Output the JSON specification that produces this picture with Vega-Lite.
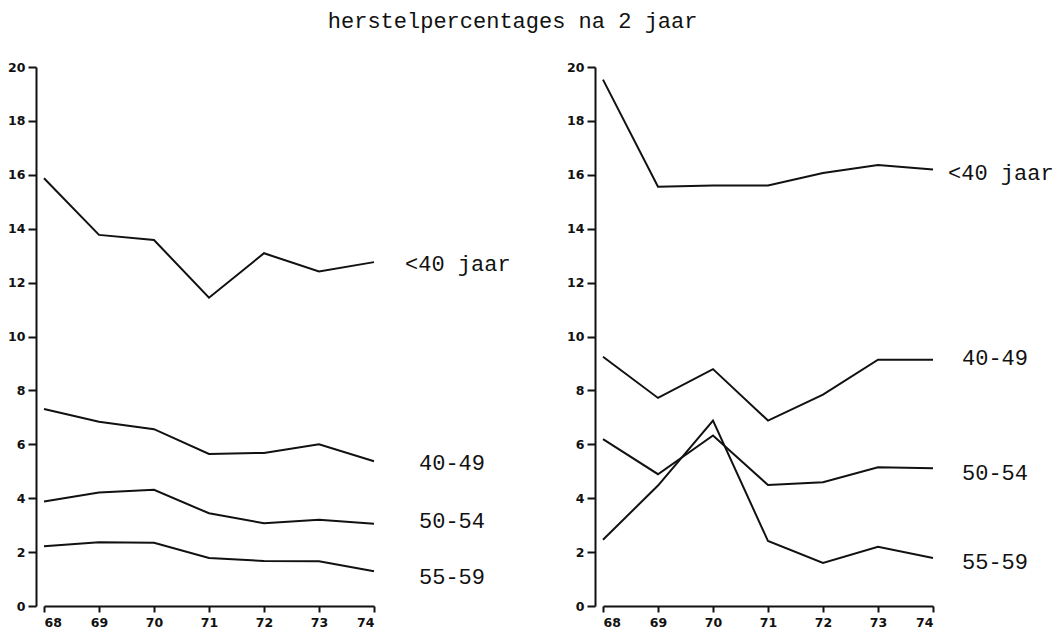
{
  "$schema": "https://vega.github.io/schema/vega-lite/v6.json",
  "background": "white",
  "padding": {"left": 7, "top": 10, "right": 4, "bottom": 4},
  "title": {
    "text": "herstelpercentages na 2 jaar",
    "font": "Liberation Mono",
    "fontSize": 22,
    "fontWeight": "normal",
    "color": "#111",
    "anchor": "middle",
    "offset": 28,
    "dx": -18
  },
  "datasets": {
    "lines": [
      {"panel": "A", "groep": "<40 jaar", "jaar": 68, "pct": 15.87},
      {"panel": "A", "groep": "<40 jaar", "jaar": 69, "pct": 13.77},
      {"panel": "A", "groep": "<40 jaar", "jaar": 70, "pct": 13.58},
      {"panel": "A", "groep": "<40 jaar", "jaar": 71, "pct": 11.44},
      {"panel": "A", "groep": "<40 jaar", "jaar": 72, "pct": 13.09},
      {"panel": "A", "groep": "<40 jaar", "jaar": 73, "pct": 12.41},
      {"panel": "A", "groep": "<40 jaar", "jaar": 74, "pct": 12.76},
      {"panel": "A", "groep": "40-49", "jaar": 68, "pct": 7.31},
      {"panel": "A", "groep": "40-49", "jaar": 69, "pct": 6.84},
      {"panel": "A", "groep": "40-49", "jaar": 70, "pct": 6.56},
      {"panel": "A", "groep": "40-49", "jaar": 71, "pct": 5.64},
      {"panel": "A", "groep": "40-49", "jaar": 72, "pct": 5.68},
      {"panel": "A", "groep": "40-49", "jaar": 73, "pct": 6.0},
      {"panel": "A", "groep": "40-49", "jaar": 74, "pct": 5.37},
      {"panel": "A", "groep": "50-54", "jaar": 68, "pct": 3.88},
      {"panel": "A", "groep": "50-54", "jaar": 69, "pct": 4.21},
      {"panel": "A", "groep": "50-54", "jaar": 70, "pct": 4.31},
      {"panel": "A", "groep": "50-54", "jaar": 71, "pct": 3.44},
      {"panel": "A", "groep": "50-54", "jaar": 72, "pct": 3.07},
      {"panel": "A", "groep": "50-54", "jaar": 73, "pct": 3.2},
      {"panel": "A", "groep": "50-54", "jaar": 74, "pct": 3.05},
      {"panel": "A", "groep": "55-59", "jaar": 68, "pct": 2.22},
      {"panel": "A", "groep": "55-59", "jaar": 69, "pct": 2.37},
      {"panel": "A", "groep": "55-59", "jaar": 70, "pct": 2.35},
      {"panel": "A", "groep": "55-59", "jaar": 71, "pct": 1.78},
      {"panel": "A", "groep": "55-59", "jaar": 72, "pct": 1.67},
      {"panel": "A", "groep": "55-59", "jaar": 73, "pct": 1.66},
      {"panel": "A", "groep": "55-59", "jaar": 74, "pct": 1.29},
      {"panel": "B", "groep": "<40 jaar", "jaar": 68, "pct": 19.53},
      {"panel": "B", "groep": "<40 jaar", "jaar": 69, "pct": 15.56},
      {"panel": "B", "groep": "<40 jaar", "jaar": 70, "pct": 15.6},
      {"panel": "B", "groep": "<40 jaar", "jaar": 71, "pct": 15.6},
      {"panel": "B", "groep": "<40 jaar", "jaar": 72, "pct": 16.07},
      {"panel": "B", "groep": "<40 jaar", "jaar": 73, "pct": 16.36},
      {"panel": "B", "groep": "<40 jaar", "jaar": 74, "pct": 16.2},
      {"panel": "B", "groep": "40-49", "jaar": 68, "pct": 9.25},
      {"panel": "B", "groep": "40-49", "jaar": 69, "pct": 7.72},
      {"panel": "B", "groep": "40-49", "jaar": 70, "pct": 8.79},
      {"panel": "B", "groep": "40-49", "jaar": 71, "pct": 6.88},
      {"panel": "B", "groep": "40-49", "jaar": 72, "pct": 7.84},
      {"panel": "B", "groep": "40-49", "jaar": 73, "pct": 9.14},
      {"panel": "B", "groep": "40-49", "jaar": 74, "pct": 9.14},
      {"panel": "B", "groep": "50-54", "jaar": 68, "pct": 6.19},
      {"panel": "B", "groep": "50-54", "jaar": 69, "pct": 4.89},
      {"panel": "B", "groep": "50-54", "jaar": 70, "pct": 6.33},
      {"panel": "B", "groep": "50-54", "jaar": 71, "pct": 4.49},
      {"panel": "B", "groep": "50-54", "jaar": 72, "pct": 4.59},
      {"panel": "B", "groep": "50-54", "jaar": 73, "pct": 5.15},
      {"panel": "B", "groep": "50-54", "jaar": 74, "pct": 5.11},
      {"panel": "B", "groep": "55-59", "jaar": 68, "pct": 2.46},
      {"panel": "B", "groep": "55-59", "jaar": 69, "pct": 4.47},
      {"panel": "B", "groep": "55-59", "jaar": 70, "pct": 6.88},
      {"panel": "B", "groep": "55-59", "jaar": 71, "pct": 2.41},
      {"panel": "B", "groep": "55-59", "jaar": 72, "pct": 1.6},
      {"panel": "B", "groep": "55-59", "jaar": 73, "pct": 2.2},
      {"panel": "B", "groep": "55-59", "jaar": 74, "pct": 1.78}
    ],
    "labels": [
      {"panel": "A", "groep": "<40 jaar", "jaar": 74, "pct": 12.69},
      {"panel": "A", "groep": "40-49", "jaar": 74, "pct": 5.32},
      {"panel": "A", "groep": "50-54", "jaar": 74, "pct": 3.17},
      {"panel": "A", "groep": "55-59", "jaar": 74, "pct": 1.06},
      {"panel": "B", "groep": "<40 jaar", "jaar": 74, "pct": 16.06},
      {"panel": "B", "groep": "40-49", "jaar": 74, "pct": 9.21},
      {"panel": "B", "groep": "50-54", "jaar": 74, "pct": 4.92},
      {"panel": "B", "groep": "55-59", "jaar": 74, "pct": 1.62}
    ]
  },
  "spacing": 229,
  "bounds": "flush",
  "hconcat": [
    {
      "width": 330,
      "height": 539,
      "encoding": {
        "x": {"field": "jaar", "type": "quantitative", "scale": {"domain": [68, 74], "nice": false, "zero": false}, "axis": {"values": [68, 69, 70, 71, 72, 73, 74], "title": null}},
        "y": {"field": "pct", "type": "quantitative", "scale": {"domain": [0, 20], "nice": false}, "axis": {"values": [0, 2, 4, 6, 8, 10, 12, 14, 16, 18, 20], "title": null, "offset": 8}}
      },
      "layer": [
        {
          "data": {"name": "lines"},
          "transform": [{"filter": "datum.panel === 'A'"}],
          "mark": {"type": "line", "color": "#111", "strokeWidth": 2},
          "encoding": {"detail": {"field": "groep"}}
        },
        {
          "data": {"name": "labels"},
          "transform": [{"filter": "datum.panel === 'A' && datum.groep === '<40 jaar'"}],
          "mark": {"type": "text", "align": "left", "baseline": "middle", "dx": 31, "font": "Liberation Mono", "fontSize": 22, "color": "#111"},
          "encoding": {"text": {"field": "groep"}}
        },
        {
          "data": {"name": "labels"},
          "transform": [{"filter": "datum.panel === 'A' && datum.groep !== '<40 jaar'"}],
          "mark": {"type": "text", "align": "left", "baseline": "middle", "dx": 45, "font": "Liberation Mono", "fontSize": 22, "color": "#111"},
          "encoding": {"text": {"field": "groep"}}
        }
      ]
    },
    {
      "width": 330,
      "height": 539,
      "encoding": {
        "x": {"field": "jaar", "type": "quantitative", "scale": {"domain": [68, 74], "nice": false, "zero": false}, "axis": {"values": [68, 69, 70, 71, 72, 73, 74], "title": null}},
        "y": {"field": "pct", "type": "quantitative", "scale": {"domain": [0, 20], "nice": false}, "axis": {"values": [0, 2, 4, 6, 8, 10, 12, 14, 16, 18, 20], "title": null, "offset": 8}}
      },
      "layer": [
        {
          "data": {"name": "lines"},
          "transform": [{"filter": "datum.panel === 'B'"}],
          "mark": {"type": "line", "color": "#111", "strokeWidth": 2},
          "encoding": {"detail": {"field": "groep"}}
        },
        {
          "data": {"name": "labels"},
          "transform": [{"filter": "datum.panel === 'B' && datum.groep === '<40 jaar'"}],
          "mark": {"type": "text", "align": "left", "baseline": "middle", "dx": 15, "font": "Liberation Mono", "fontSize": 22, "color": "#111"},
          "encoding": {"text": {"field": "groep"}}
        },
        {
          "data": {"name": "labels"},
          "transform": [{"filter": "datum.panel === 'B' && datum.groep !== '<40 jaar'"}],
          "mark": {"type": "text", "align": "left", "baseline": "middle", "dx": 29, "font": "Liberation Mono", "fontSize": 22, "color": "#111"},
          "encoding": {"text": {"field": "groep"}}
        }
      ]
    }
  ],
  "config": {
    "view": {"stroke": null},
    "axis": {
      "grid": false,
      "domainColor": "#111",
      "domainWidth": 2,
      "tickColor": "#111",
      "tickWidth": 2,
      "labelFont": "DejaVu Sans",
      "labelFontWeight": "bold",
      "labelFontSize": 12.5,
      "labelColor": "#111"
    },
    "axisY": {"tickSize": 8, "labelPadding": 3},
    "axisX": {"tickSize": 6, "labelPadding": 4}
  }
}
